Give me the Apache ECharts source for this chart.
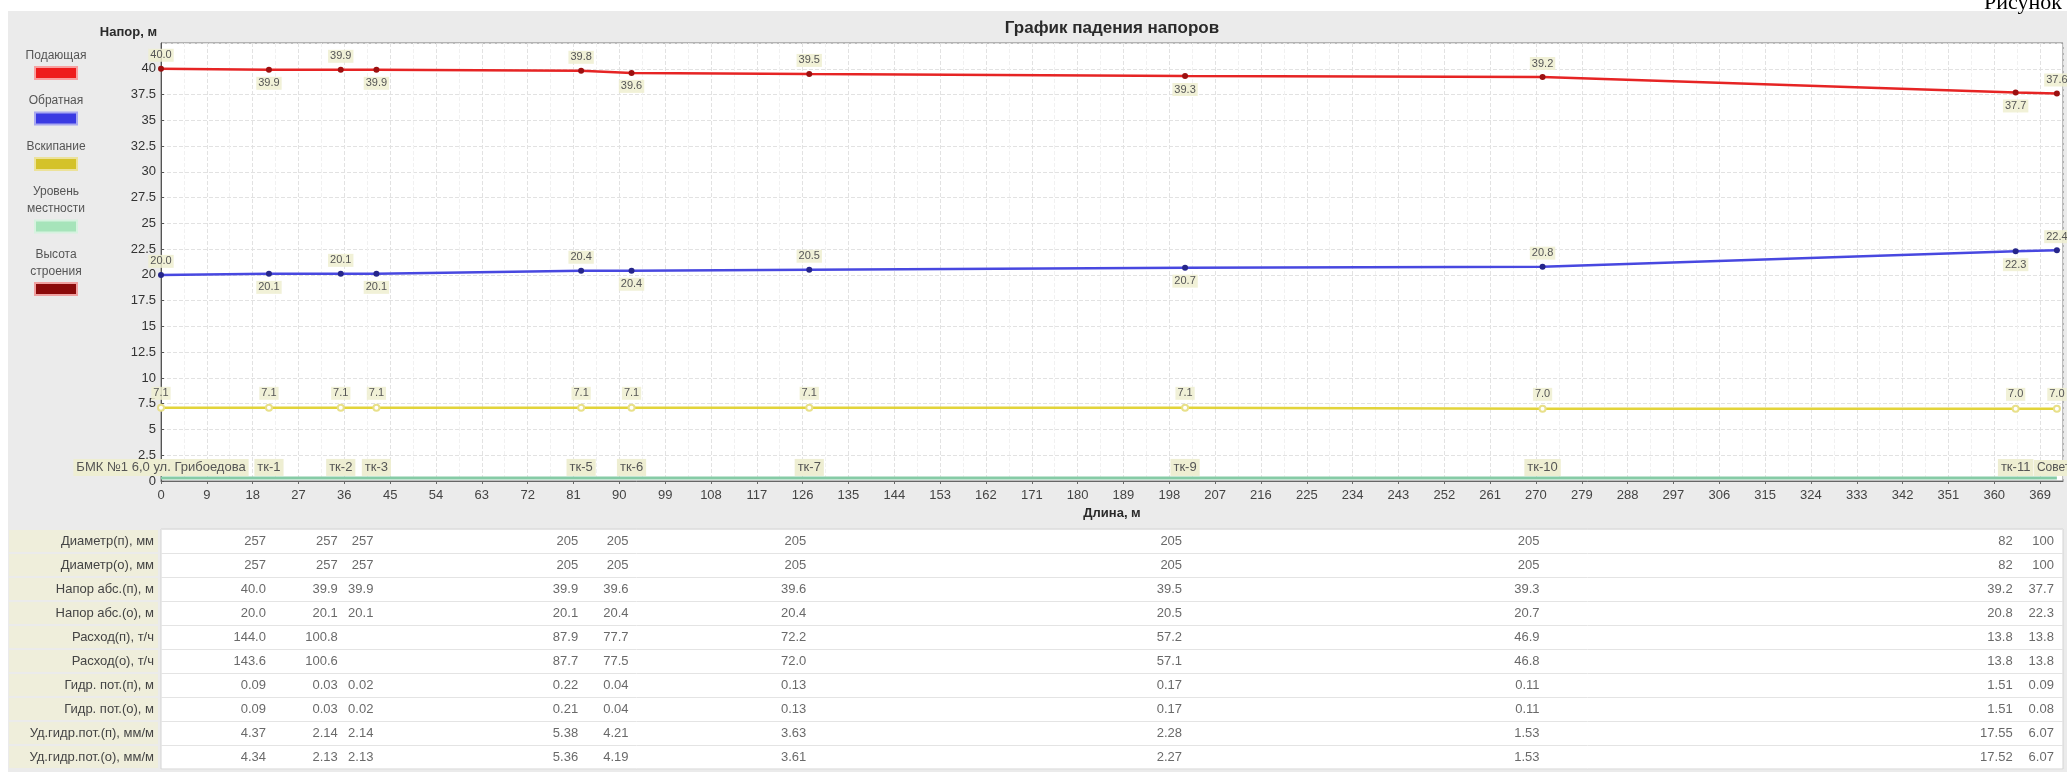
<!DOCTYPE html>
<html lang="ru">
<head>
<meta charset="utf-8">
<title>График падения напоров</title>
<script src="https://cdn.jsdelivr.net/npm/echarts@6.0.0/dist/echarts.min.js"></script>
<style>
  html, body { margin: 0; padding: 0; background: #fff; }
  #chart { width: 2067px; height: 772px; }
</style>
</head>
<body>
<div id="chart"></div>
<script>
// узлы трассы
const nodeNames = ['БМК №1 6,0 ул. Грибоедова', 'тк-1', 'тк-2', 'тк-3', 'тк-5', 'тк-6', 'тк-7', 'тк-9', 'тк-10', 'тк-11', 'Советская'];
// длина от источника, м
const nodeDist = [0, 21.2, 35.3, 42.3, 82.5, 92.4, 127.3, 201.1, 271.3, 364.2, 372.3];

// напоры в узлах, м
const supplyHead = [40.0, 39.9, 39.9, 39.9, 39.8, 39.6, 39.5, 39.3, 39.2, 37.7, 37.6];
const returnHead = [20.0, 20.1, 20.1, 20.1, 20.4, 20.4, 20.5, 20.7, 20.8, 22.3, 22.4];
const boilHead = [7.1, 7.1, 7.1, 7.1, 7.1, 7.1, 7.1, 7.1, 7.0, 7.0, 7.0];
const groundLevel = [0.3, 0.3, 0.3, 0.3, 0.3, 0.3, 0.3, 0.3, 0.3, 0.3, 0.3];

// таблица участков (столбцы - конечные узлы участков)
const rowLabels = [
    'Диаметр(п), мм', 'Диаметр(о), мм', 'Напор абс.(п), м', 'Напор абс.(о), м',
    'Расход(п), т/ч', 'Расход(о), т/ч', 'Гидр. пот.(п), м', 'Гидр. пот.(о), м',
    'Уд.гидр.пот.(п), мм/м', 'Уд.гидр.пот.(о), мм/м'
];
const diamSupply = [257, 257, 257, 205, 205, 205, 205, 205, 82, 100];
const diamReturn = [257, 257, 257, 205, 205, 205, 205, 205, 82, 100];
const headSupply = [40.0, 39.9, 39.9, 39.9, 39.6, 39.6, 39.5, 39.3, 39.2, 37.7];
const headReturn = [20.0, 20.1, 20.1, 20.1, 20.4, 20.4, 20.5, 20.7, 20.8, 22.3];
const flowSupply = [144.0, 100.8, null, 87.9, 77.7, 72.2, 57.2, 46.9, 13.8, 13.8];
const flowReturn = [143.6, 100.6, null, 87.7, 77.5, 72.0, 57.1, 46.8, 13.8, 13.8];
const lossSupply = [0.09, 0.03, 0.02, 0.22, 0.04, 0.13, 0.17, 0.11, 1.51, 0.09];
const lossReturn = [0.09, 0.03, 0.02, 0.21, 0.04, 0.13, 0.17, 0.11, 1.51, 0.08];
const specSupply = [4.37, 2.14, 2.14, 5.38, 4.21, 3.63, 2.28, 1.53, 17.55, 6.07];
const specReturn = [4.34, 2.13, 2.13, 5.36, 4.19, 3.61, 2.27, 1.53, 17.52, 6.07];

// легенда слева
const legendItems = [
    { name: 'Подающая', color: '#ee1c1c', glow: '#f7a0a0' },
    { name: 'Обратная', color: '#3a3ae2', glow: '#a8a8f0' },
    { name: 'Вскипание', color: '#d4c22a', glow: '#ece29a' },
    { name: 'Уровень\nместности', color: '#a6e4ba', glow: '#d6f2df' },
    { name: 'Высота\nстроения', color: '#8b0a0a', glow: '#f0a0a0' }
];

const FONT = '"Liberation Sans", Arial, sans-serif';
const labelBg = 'rgba(238, 238, 208, 0.85)';

// строки таблицы с количеством знаков после запятой
const tableRows = [
    [diamSupply, 0], [diamReturn, 0], [headSupply, 1], [headReturn, 1],
    [flowSupply, 1], [flowReturn, 1], [lossSupply, 2], [lossReturn, 2],
    [specSupply, 2], [specReturn, 2]
];
const tableDist = nodeDist.slice(1);
const tableCells = [];
tableRows.forEach(([values, digits], r) => {
    values.forEach((v, c) => {
        if (v !== null) tableCells.push([tableDist[c], r, v.toFixed(digits)]);
    });
});

// точки линии с подписями попеременно сверху / снизу
function headPoints(values, alternate) {
    return values.map((v, i) => ({
        value: [nodeDist[i], v],
        label: { position: alternate && i % 2 === 1 ? 'bottom' : 'top' }
    }));
}

function valueLabel(extra) {
    return Object.assign({
        show: true,
        fontSize: 11,
        color: '#555',
        backgroundColor: labelBg,
        padding: [1, 2],
        formatter: p => p.value[1].toFixed(1)
    }, extra || {});
}

// подписи узлов у линии уровня местности; последняя прижата к краю
const lastNode = nodeNames.length - 1;
const groundPoints = groundLevel.map((v, i) => {
    const item = { value: [nodeDist[i], v] };
    if (i === lastNode) item.label = { align: 'left', offset: [-23, 0], fontSize: 12 };
    return item;
});

const graphics = [
    // серая подложка окна
    { type: 'rect', z: -10, shape: { x: 8, y: 11, width: 2059, height: 761 }, style: { fill: '#ebebeb' } },
    // заголовок
    { type: 'text', x: 1112, y: 28, z: 10,
      style: { text: 'График падения напоров', textAlign: 'center', textVerticalAlign: 'middle',
               font: 'bold 17px ' + FONT, fill: '#2a2a2a' } },
    // подпись рисунка сверху справа (обрезана краем)
    { type: 'text', x: 1984, y: -8, z: 10,
      style: { text: 'Рисунок', font: '22px "Liberation Serif", "Times New Roman", serif', fill: '#000' } }
];
// легенда: подпись над цветной плашкой
let ly = 55;
legendItems.forEach(item => {
    const lines = item.name.split('\n').length;
    graphics.push({
        type: 'text', x: 56, y: ly - 8, z: 10,
        style: { text: item.name, textAlign: 'center', textVerticalAlign: 'top', lineHeight: 17,
                 font: '12px ' + FONT, fill: '#555' }
    });
    const sy = ly + (lines - 1) * 17 + 18;
    graphics.push({
        type: 'rect', z: 10,
        shape: { x: 35, y: sy - 6, width: 42, height: 12 },
        style: { fill: item.color, stroke: item.glow, lineWidth: 2 }
    });
    ly = sy + 27.5;
});

const chart = echarts.init(document.getElementById('chart'));

const option = {
    animation: false,
    backgroundColor: '#fff',
    textStyle: { fontFamily: FONT },
    graphic: graphics,
    grid: [
        // график
        { left: 161, right: 4, top: 43, height: 438, show: true,
          backgroundColor: '#fff', borderColor: '#7a7a7a', borderWidth: 1 },
        // таблица
        { left: 161, right: 4, top: 529, height: 240, show: true,
          backgroundColor: '#fff', borderColor: '#d4d4d4', borderWidth: 1 }
    ],
    xAxis: [
        {
            type: 'value', gridIndex: 0,
            min: 0, max: 373.5, interval: 9,
            name: 'Длина, м', nameLocation: 'middle', nameGap: 26,
            nameTextStyle: { fontWeight: 'bold', fontSize: 13, color: '#2a2a2a' },
            axisLine: { show: true, onZero: false, lineStyle: { color: '#666' } },
            axisTick: { show: true, length: 3, lineStyle: { color: '#666' } },
            axisLabel: { fontSize: 13, color: '#444', margin: 8, showMaxLabel: false },
            splitLine: { show: true, lineStyle: { color: '#e2e2e2', type: 'dashed' } },
            minorTick: { show: false, splitNumber: 2 },
            minorSplitLine: { show: true, lineStyle: { color: '#f1f1f1', type: 'dashed' } }
        },
        {
            type: 'value', gridIndex: 1,
            min: 0, max: 373.5, show: false
        }
    ],
    yAxis: [
        {
            type: 'value', gridIndex: 0,
            min: 0, max: 42.5, interval: 2.5,
            name: 'Напор, м', nameLocation: 'end', nameGap: 11,
            nameTextStyle: { fontWeight: 'bold', fontSize: 13, color: '#2a2a2a',
                             align: 'right', verticalAlign: 'middle', padding: [0, 4, 0, 0] },
            axisLine: { show: true, lineStyle: { color: '#555' } },
            axisTick: { show: true, inside: true, length: 3, lineStyle: { color: '#555' } },
            axisLabel: { fontSize: 13, color: '#333', margin: 5, showMaxLabel: false },
            splitLine: { show: true, lineStyle: { color: '#e2e2e2', type: 'dashed' } }
        },
        {
            type: 'category', gridIndex: 1, inverse: true,
            data: rowLabels,
            axisLine: { show: false },
            axisTick: { show: false },
            splitLine: { show: true, lineStyle: { color: '#e4e4e4' } },
            axisLabel: {
                fontSize: 13, color: '#444', align: 'right', margin: 3,
                width: 145, height: 22, lineHeight: 22,
                backgroundColor: '#efeedb', padding: [0, 4, 0, 0]
            }
        }
    ],
    series: [
        {
            name: 'Подающая', type: 'line',
            data: headPoints(supplyHead, true),
            symbol: 'circle', symbolSize: 6,
            lineStyle: { color: '#e62424', width: 2.5 },
            itemStyle: { color: '#9c1010' },
            label: valueLabel({ distance: 4 }),
            z: 4
        },
        {
            name: 'Обратная', type: 'line',
            data: headPoints(returnHead, true),
            symbol: 'circle', symbolSize: 6,
            lineStyle: { color: '#4848e0', width: 2.5 },
            itemStyle: { color: '#26268a' },
            label: valueLabel({ distance: 4 }),
            z: 4
        },
        {
            name: 'Вскипание', type: 'line',
            data: headPoints(boilHead, false),
            symbol: 'emptyCircle', symbolSize: 6,
            lineStyle: { color: '#e2d43a', width: 2.5 },
            itemStyle: { color: '#e8e08a', borderColor: '#7a7820', borderWidth: 1.5 },
            label: valueLabel({ distance: 4 }),
            z: 4
        },
        {
            name: 'Уровень местности', type: 'line',
            data: groundPoints,
            symbol: 'circle', symbolSize: 0,
            lineStyle: { color: '#86cba6', width: 3 },
            label: {
                show: true, position: 'top', distance: 2,
                fontSize: 13, color: '#555',
                backgroundColor: '#eeeed2', padding: [2, 3],
                formatter: p => nodeNames[p.dataIndex]
            },
            z: 3
        },
        {
            name: 'Таблица', type: 'scatter',
            xAxisIndex: 1, yAxisIndex: 1,
            data: tableCells,
            symbolSize: 0,
            label: {
                show: true, position: 'left', distance: 3,
                fontSize: 13, color: '#444',
                formatter: p => p.value[2]
            }
        }
    ]
};

chart.setOption(option);
</script>
</body>
</html>
